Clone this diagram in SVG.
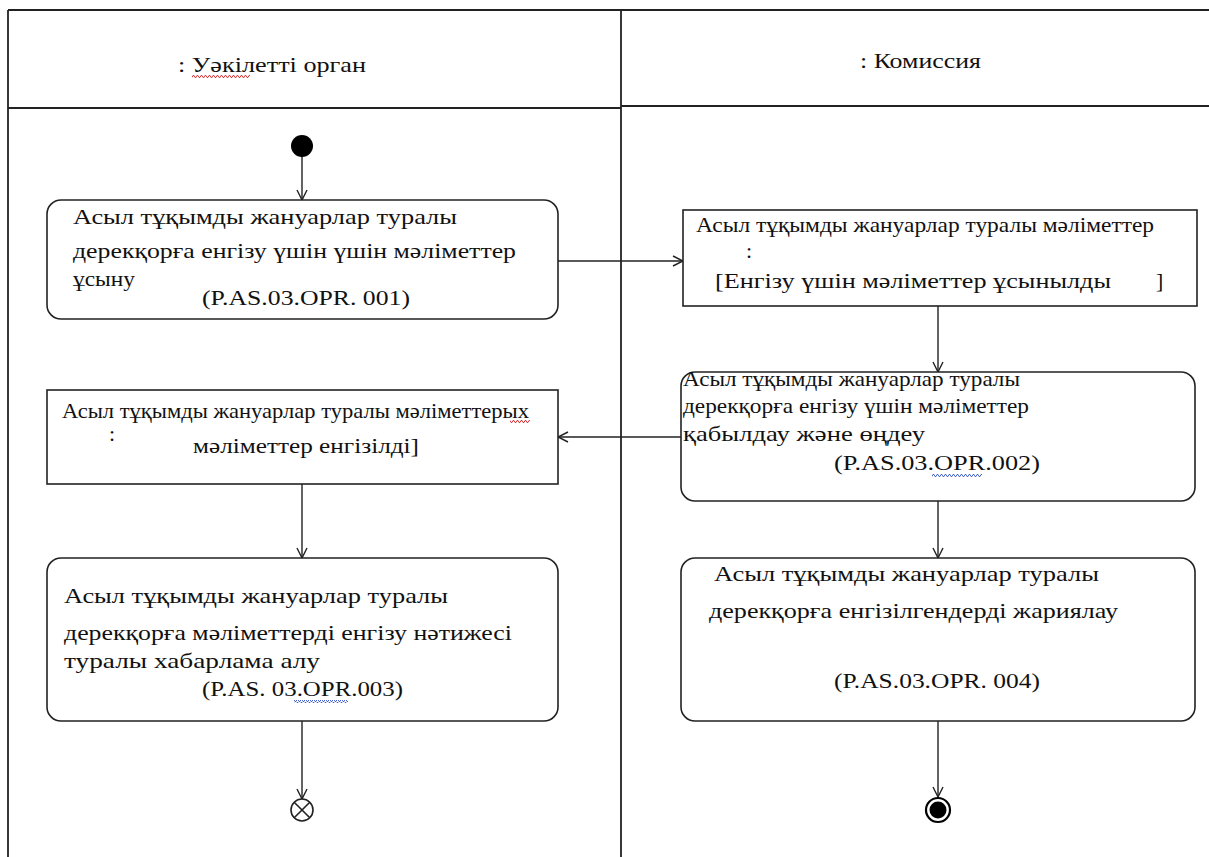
<svg xmlns="http://www.w3.org/2000/svg" width="1209" height="857" viewBox="0 0 1209 857" xml:space="preserve">
<style>
.t{font-family:"Liberation Serif","Times New Roman",serif;font-size:22px;fill:#111}
.box{fill:#fff;stroke:#222;stroke-width:1.6}
.lane{stroke:#222;stroke-width:1.8;fill:none}
.con{stroke:#222;stroke-width:1.4;fill:none}
</style>
<defs>
<marker id="arr" viewBox="0 0 12 12" refX="11" refY="6" markerWidth="12" markerHeight="12" markerUnits="userSpaceOnUse" orient="auto">
<path d="M1,1 L11,6 L1,11" fill="none" stroke="#222" stroke-width="1.4"/>
</marker>
<pattern id="sqR" width="4" height="3" patternUnits="userSpaceOnUse">
<path d="M0,2.5 L1,0.5 L2,0.5 L3,2.5 L4,2.5" fill="none" stroke="#d22" stroke-width="0.9"/>
</pattern>
<pattern id="sqB" width="4" height="3" patternUnits="userSpaceOnUse">
<path d="M0,2.5 L1,0.5 L2,0.5 L3,2.5 L4,2.5" fill="none" stroke="#35c" stroke-width="0.9"/>
</pattern>
</defs>
<rect width="1209" height="857" fill="#fff"/>
<g id="lanes">
<line class="lane" x1="8" y1="10" x2="1209" y2="10"/>
<line class="lane" x1="8" y1="10" x2="8" y2="857"/>
<line class="lane" x1="621" y1="10" x2="621" y2="857"/>
<line class="lane" x1="8" y1="108" x2="621" y2="108"/>
<line class="lane" x1="621" y1="106" x2="1209" y2="106"/>
<text class="t" x="178" y="72" textLength="188" lengthAdjust="spacingAndGlyphs">: Уәкілетті орган</text>
<rect x="192" y="75" width="58" height="3" fill="url(#sqR)"/>
<text class="t" x="860" y="68" textLength="121" lengthAdjust="spacingAndGlyphs">: Комиссия</text>
</g>
<g id="connectors">
<line class="con" x1="302" y1="156" x2="302" y2="200" marker-end="url(#arr)"/>
<line class="con" x1="558" y1="261" x2="683" y2="261" marker-end="url(#arr)"/>
<line class="con" x1="938" y1="306" x2="938" y2="372" marker-end="url(#arr)"/>
<line class="con" x1="681" y1="437" x2="558" y2="437" marker-end="url(#arr)"/>
<line class="con" x1="302" y1="484" x2="302" y2="558" marker-end="url(#arr)"/>
<line class="con" x1="938" y1="501" x2="938" y2="558" marker-end="url(#arr)"/>
<line class="con" x1="302" y1="721" x2="302" y2="799" marker-end="url(#arr)"/>
<line class="con" x1="938" y1="721" x2="938" y2="797" marker-end="url(#arr)"/>
</g>
<g id="start">
<circle cx="302" cy="146" r="11" fill="#000"/>
</g>
<g id="n1">
<rect class="box" x="47" y="200" width="511" height="119" rx="14"/>
<text class="t" x="73" y="224" textLength="384" lengthAdjust="spacingAndGlyphs">Асыл тұқымды жануарлар туралы</text>
<text class="t" x="73" y="258" textLength="443" lengthAdjust="spacingAndGlyphs">дерекқорға енгізу  үшін үшін мәліметтер</text>
<text class="t" x="73" y="286" textLength="62" lengthAdjust="spacingAndGlyphs">ұсыну</text>
<text class="t" x="202" y="305" textLength="208" lengthAdjust="spacingAndGlyphs">(P.AS.03.OPR. 001)</text>
</g>
<g id="n2">
<rect class="box" x="683" y="210" width="514" height="96"/>
<text class="t" x="696" y="232" textLength="458" lengthAdjust="spacingAndGlyphs">Асыл тұқымды жануарлар  туралы  мәліметтер</text>
<text class="t" x="746" y="258" font-size="15">:</text>
<text class="t" x="715" y="288" textLength="396" lengthAdjust="spacingAndGlyphs">[Енгізу  үшін мәліметтер ұсынылды</text>
<text class="t" x="1156" y="288">]</text>
</g>
<g id="n3">
<rect class="box" x="681" y="372" width="514" height="129" rx="14"/>
<text class="t" x="683" y="386" textLength="337" lengthAdjust="spacingAndGlyphs">Асыл тұқымды жануарлар  туралы</text>
<text class="t" x="683" y="413" textLength="346" lengthAdjust="spacingAndGlyphs">дерекқорға енгізу үшін мәліметтер</text>
<text class="t" x="683" y="441" textLength="242" lengthAdjust="spacingAndGlyphs">қабылдау және өңдеу</text>
<text class="t" x="834" y="470" textLength="206" lengthAdjust="spacingAndGlyphs">(P.AS.03.OPR.002)</text>
<rect x="932" y="474" width="50" height="3" fill="url(#sqB)"/>
</g>
<g id="n4">
<rect class="box" x="47" y="390" width="511" height="94"/>
<text class="t" x="62" y="418" textLength="467" lengthAdjust="spacingAndGlyphs">Асыл тұқымды жануарлар  туралы мәліметтерых</text>
<text class="t" x="109" y="441" font-size="15">:</text>
<rect x="510" y="420" width="20" height="3" fill="url(#sqR)"/>
<text class="t" x="193" y="453" textLength="226" lengthAdjust="spacingAndGlyphs">мәліметтер енгізілді]</text>
</g>
<g id="n5">
<rect class="box" x="47" y="558" width="511" height="163" rx="14"/>
<text class="t" x="64" y="603" textLength="384" lengthAdjust="spacingAndGlyphs">Асыл тұқымды жануарлар туралы</text>
<text class="t" x="64" y="640" textLength="448" lengthAdjust="spacingAndGlyphs">дерекқорға мәліметтерді енгізу  нәтижесі</text>
<text class="t" x="64" y="668" textLength="256" lengthAdjust="spacingAndGlyphs">туралы хабарлама алу</text>
<text class="t" x="202" y="696" textLength="201" lengthAdjust="spacingAndGlyphs">(P.AS. 03.OPR.003)</text>
<rect x="294" y="700" width="54" height="3" fill="url(#sqB)"/>
</g>
<g id="n6">
<rect class="box" x="681" y="558" width="514" height="163" rx="14"/>
<text class="t" x="714" y="581" textLength="385" lengthAdjust="spacingAndGlyphs">Асыл тұқымды жануарлар туралы</text>
<text class="t" x="709" y="618" textLength="409" lengthAdjust="spacingAndGlyphs">дерекқорға енгізілгендерді  жариялау</text>
<text class="t" x="834" y="688" textLength="206" lengthAdjust="spacingAndGlyphs">(P.AS.03.OPR. 004)</text>
</g>
<g id="flowfinal">
<circle cx="302" cy="810" r="11" fill="#fff" stroke="#222" stroke-width="1.6"/>
<line x1="294.2" y1="802.2" x2="309.8" y2="817.8" stroke="#222" stroke-width="1.6"/>
<line x1="309.8" y1="802.2" x2="294.2" y2="817.8" stroke="#222" stroke-width="1.6"/>
</g>
<g id="final">
<circle cx="938" cy="810" r="12" fill="#fff" stroke="#000" stroke-width="2.2"/>
<circle cx="938" cy="810" r="8.5" fill="#000"/>
</g>
</svg>
